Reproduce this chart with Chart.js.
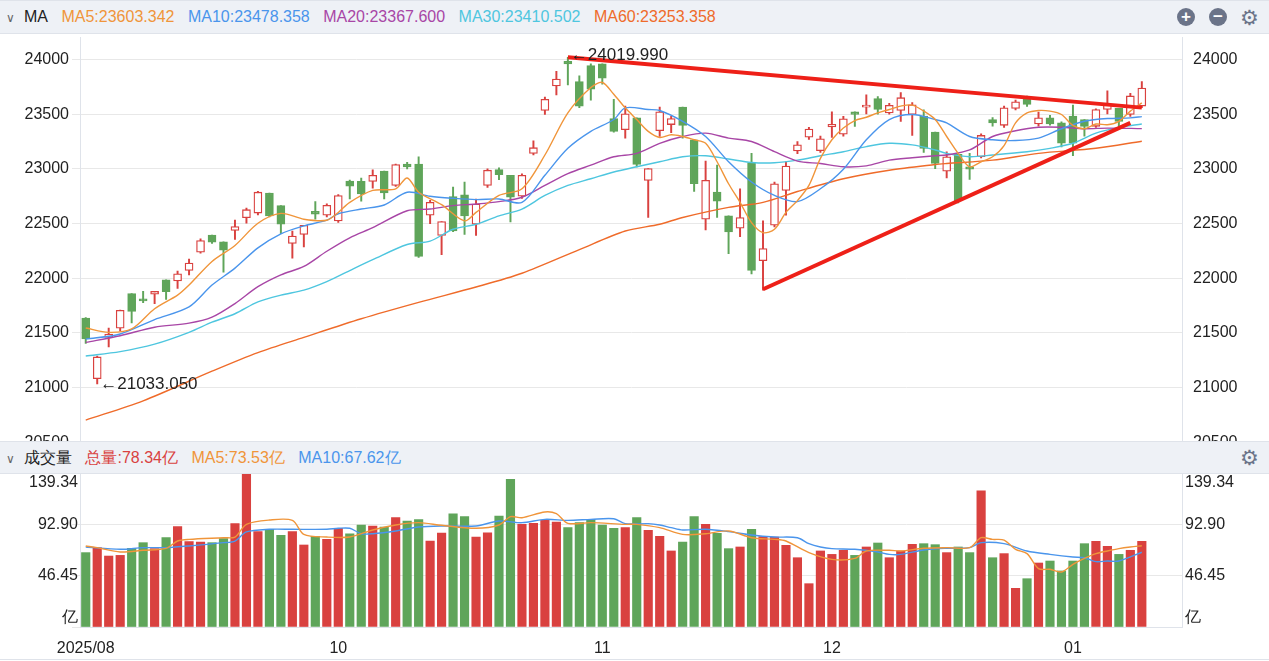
<!DOCTYPE html>
<html>
<head>
<meta charset="utf-8">
<script src="https://cdn.jsdelivr.net/npm/chart.js@4.4.1/dist/chart.umd.min.js"></script>
<style>
  body { margin:0; width:1269px; height:661px; background:#fff; font-family:"Liberation Sans", Arial, sans-serif; overflow:hidden; position:relative; }
  .bar { position:absolute; left:0; width:1269px; background:#eef1f6; border-top:1px solid #dfe3ea; border-bottom:1px solid #dfe3ea; font-size:16px; line-height:32px; white-space:nowrap; z-index:2; }
  .bar span { margin-right:9px; }
  .ic { position:absolute; top:7px; width:18px; height:18px; border-radius:9px; background:#6b7489; color:#fff; font-size:17px; line-height:18px; text-align:center; font-weight:bold; }
  .gear { position:absolute; top:1px; font-size:21px; color:#6b7489; }
  .wrap { position:absolute; left:0; width:1269px; z-index:1; }
</style>
</head>
<body>
<div class="bar" style="top:0;height:32px;">
  <span style="margin-left:6px;color:#666;font-size:12px;">&#8744;</span><span style="color:#222">MA</span>
  <span style="color:#f0953a">MA5:23603.342</span>
  <span style="color:#4a95ec">MA10:23478.358</span>
  <span style="color:#a846a6">MA20:23367.600</span>
  <span style="color:#4ec6df">MA30:23410.502</span>
  <span style="color:#ef6b2a">MA60:23253.358</span>
  <div class="ic" style="left:1177px;">+</div>
  <div class="ic" style="left:1209px;">&minus;</div>
  <div class="gear" style="left:1240px;">&#9881;</div>
</div>
<div class="wrap" style="top:25px;height:430px;"><canvas id="k"></canvas></div>
<div class="bar" style="top:441px;height:31px;line-height:31px;">
  <span style="margin-left:6px;color:#666;font-size:12px;">&#8744;</span><span style="color:#222">成交量</span>
  <span style="color:#d9413f">总量:78.34亿</span>
  <span style="color:#f0953a">MA5:73.53亿</span>
  <span style="color:#4a95ec">MA10:67.62亿</span>
  <div class="gear" style="left:1240px;top:0;">&#9881;</div>
</div>
<div class="wrap" style="top:473px;height:186px;border-bottom:1px solid #dfe3ea;"><canvas id="v"></canvas></div>
<script>
const open  = [21637,21083,21460,21544,21861,21808,21855,21985,21975,22071,22238,22395,22333,22438,22553,22596,22778,22664,22318,22401,22611,22577,22525,22889,22886,22886,22981,22849,23044,23044,22577,22392,22747,22763,22494,22849,22994,22942,22750,23142,23534,23759,23984,23799,23944,23960,23460,23358,23466,22895,23349,23405,23565,23266,22540,22787,22571,22457,23056,22161,22485,22803,23164,23290,23167,23383,23318,23521,23565,23642,23512,23534,23497,23482,23336,22979,23133,23019,23111,23451,23398,23553,23651,23410,23466,23420,23482,23451,23389,23543,23553,23497,23574];
const close = [21446,21281,21491,21707,21697,21794,21880,21877,22041,22139,22345,22331,22256,22472,22627,22787,22571,22494,22386,22485,22586,22667,22757,22843,22772,22942,22781,23040,23019,22200,22694,22519,22432,22571,22679,22988,22947,22741,22942,23194,23636,23821,23960,23574,23728,23830,23343,23503,23040,23003,23521,23460,23398,22864,22895,22704,22423,22556,22071,22272,22864,23025,23221,23364,23275,23407,23457,23497,23581,23543,23581,23651,23586,23188,23049,23111,22710,22997,23306,23420,23558,23614,23590,23466,23410,23234,23234,23389,23543,23590,23435,23667,23738];
const high  = [21640,21290,21546,21710,21861,21880,21880,21985,22065,22176,22360,22395,22333,22533,22642,22795,22778,22664,22432,22485,22701,22680,22765,22898,22917,22991,22981,23045,23060,23111,22713,22519,22833,22880,22725,23000,23009,22942,22955,23256,23657,23892,24020,23850,23960,23960,23636,23574,23466,23003,23565,23480,23565,23266,23071,23034,22571,22818,23142,22525,22880,23065,23250,23380,23300,23521,23480,23521,23676,23660,23600,23697,23605,23540,23336,23157,23133,23142,23320,23470,23575,23630,23665,23520,23490,23430,23583,23451,23550,23713,23553,23690,23799];
const low   = [21405,21034,21373,21520,21593,21778,21769,21806,21907,22031,22230,22318,22056,22355,22503,22580,22560,22407,22185,22287,22540,22560,22510,22725,22704,22824,22725,22840,23000,22190,22500,22216,22426,22401,22392,22830,22901,22516,22730,23127,23497,23676,23768,23560,23627,23775,23336,23281,23019,22556,23296,23330,23281,22793,22442,22556,22225,22380,22040,21892,22470,22577,23140,23270,23150,23287,23300,23389,23503,23500,23500,23435,23305,23150,23003,22917,22690,22903,23100,23390,23380,23540,23570,23390,23400,23200,23120,23300,23380,23503,23380,23480,23560];
const vol   = [67.3,71.8,64.2,64.8,71.2,76.3,70.9,80.8,90.8,77.2,76.9,76.3,79.9,93.5,138.1,86.3,88.4,82.9,86.3,74.2,82.0,79.3,89.3,84.4,92.3,91.4,90.5,98.9,95.9,97.1,77.8,85.0,102.5,99.8,81.4,85.3,100.4,133.6,92.9,93.8,96.5,95.0,89.9,94.4,97.4,92.3,89.3,89.9,98.9,87.5,82.0,68.8,76.9,99.8,92.9,84.7,70.9,72.4,88.4,81.7,81.4,73.9,62.7,39.2,68.8,65.7,69.4,64.8,72.4,76.0,62.7,68.8,74.8,75.4,74.5,67.3,72.4,67.3,123.1,62.7,66.4,35.0,43.7,57.9,59.7,50.7,59.7,75.4,77.5,73.0,65.7,69.4,77.5];

const ma5 = {0:21546,2:21506,4:21537,6:21722,8:21846,9:21938,11:22154,13:22300,15:22503,17:22593,19:22540,21:22531,22:22602,23:22694,25:22803,27:22818,28:22917,29:22787,31:22673,33:22525,34:22602,36:22757,38:22818,40:23127,42:23512,44:23743,45:23790,46:23682,47:23558,48:23451,49:23343,50:23287,51:23312,52:23296,53:23266,54:23234,55:23065,56:22864,57:22694,58:22509,59:22417,60:22448,61:22602,62:22710,63:22849,64:23096,65:23266,66:23373,67:23442,68:23472,69:23512,70:23543,71:23574,72:23583,73:23528,74:23451,75:23296,76:23142,77:23019,78:23065,79:23111,80:23213,81:23420,82:23512,83:23534,84:23528,85:23497,86:23398,87:23367,88:23410,89:23404,90:23435,91:23528,92:23603};
const ma10 = {0:21444,3:21491,6:21623,9:21738,11:21938,13:22093,15:22278,17:22407,19:22479,21:22531,22:22590,24:22633,26:22670,28:22787,30:22750,32:22731,34:22719,36:22725,38:22694,40:22942,42:23188,44:23343,46:23451,47:23558,49:23543,50:23534,52:23435,54:23296,56:23065,58:22880,60:22757,62:22701,64:22818,66:22997,68:23266,70:23451,72:23497,74:23451,75:23420,77:23296,79:23266,81:23259,83:23281,85:23367,87:23435,89:23460,91:23466,92:23478};
const ma20 = {0:21414,3:21475,6:21553,9:21590,11:21645,13:21769,15:21923,17:22031,19:22108,21:22247,23:22370,25:22463,28:22617,30:22633,32:22664,34:22679,36:22701,38:22741,40:22849,42:22957,44:23034,46:23111,48:23142,50:23234,52:23296,54:23327,56:23281,58:23250,60:23157,62:23071,64:23049,66:23019,68:23028,70:23080,72:23102,74:23120,75:23127,77:23173,79:23296,81:23349,83:23380,85:23380,87:23367,89:23373,92:23368};
const ma30 = {0:21290,3:21330,6:21398,9:21506,11:21599,13:21676,15:21784,17:21846,19:21892,21:21970,23:22071,25:22170,28:22309,30:22340,32:22448,34:22494,36:22571,38:22633,40:22757,42:22849,44:22910,46:22972,48:23019,50:23065,52:23111,54:23120,56:23090,58:23059,60:23056,62:23080,64:23120,66:23157,68:23204,70:23234,72:23219,74:23173,75:23142,77:23111,79:23127,82:23157,84:23188,86:23234,88:23327,90:23380,92:23410};
const ma60 = {0:20704,5:20880,11:21151,15:21321,19:21460,24:21630,29:21780,34:21920,38:22046,43:22262,47:22432,50:22494,52:22556,56:22648,59:22694,62:22793,66:22910,70:22988,74:23040,75:23049,79:23080,83:23142,88:23188,92:23253};
const vma5 = {0:73.3,1:71.8,3:67.9,5:69.4,7:71.2,8:77.8,9:79.3,12:80.8,13:81.4,14:92.9,16:96.8,18:96.5,19:83.8,21:81.4,23:81.4,25:87.8,27:92.3,29:94.4,31:92.0,34:89.3,36:92.3,37:99.8,38:98.9,40:104.1,41:102.5,42:93.8,44:94.4,47:92.9,48:92.9,50:89.9,52:83.8,54:84.4,56:86.9,58:80.8,60:79.3,61:77.8,63:67.3,65:61.2,67:62.1,68:68.8,70:69.4,71:68.8,73:71.2,75:71.8,77:71.8,78:80.8,79:79.3,80:78.7,81:70.3,82:66.4,83:52.8,84:52.2,85:49.8,86:56.7,87:62.1,88:66.4,89:68.8,90:70.9,91:72.4,92:73.53};
const vma10 = {0:72.4,3:70.3,5:71.8,7:71.8,9:73.3,12:76.3,13:77.8,14:86.0,16:88.4,18:88.4,21:88.4,22:89.3,23:89.3,24:84.4,25:84.4,27:86.9,29:90.5,31:91.4,34:91.4,36:95.9,38:94.4,40:97.4,42:96.5,44:97.4,46:98.0,47:93.5,49:93.5,50:92.3,51:89.9,52:87.8,54:88.4,56:86.3,58:83.2,60:81.4,62:80.8,63:75.4,64:72.4,65:70.9,67:70.3,69:67.9,70:65.7,71:65.7,73:69.7,75:71.2,77:71.8,78:76.3,80:75.4,82:68.8,84:65.7,86:63.3,87:62.7,88:59.1,89:59.7,90:59.7,92:67.62};

// hand-drawn trend lines: [index, price]
const trendTop = [[42,24020],[92,23560]];
const trendLow = [[59,21900],[91,23420]];

const priceTicks = [20500,21000,21500,22000,22500,23000,23500,24000];
const volTicks = [0,46.45,92.90,139.34];
const volTickText = ['亿','46.45','92.90','139.34'];
const monthLabels = {0:'2025/08',22:'10',45:'11',65:'12',86:'01'};

const N = open.length, SLOTS = 96;
const labels = Array.from({length:SLOTS}, (_, i) => i);
const RED = '#d9413f', GREEN = '#5fa55a';
const isUp = open.map((o, i) => close[i] >= o);
const series = obj => labels.map(i => obj[i] ?? null);
const trend = pts => labels.map(i => { const p = pts.find(q => q[0] === i); return p ? p[1] : null; });

const yW = {left:80, right:87};
function fixW(side){ return s => { s.width = yW[side]; }; }

const maLine = (data, color) => ({type:'line', data:series(data), borderColor:color, borderWidth:1.4, pointRadius:0, spanGaps:true, tension:0.3, order:1});

const textMarks = {
  id:'marks',
  afterDatasetsDraw(chart){
    const {ctx, scales:{x, y}} = chart;
    ctx.save();
    ctx.font = '17px "Liberation Sans", Arial';
    ctx.fillStyle = '#222';
    ctx.textBaseline = 'middle';
    const hi = high.indexOf(Math.max(...high)), lo = low.indexOf(Math.min(...low));
    ctx.fillText('\u2190' + '24019.990', x.getPixelForValue(hi) + 3, y.getPixelForValue(24020) - 2);
    ctx.fillText('\u2190' + '21033.050', x.getPixelForValue(lo) + 3, y.getPixelForValue(21034));
    ctx.restore();
  }
};

const priceFont = {size:16, family:'"Liberation Sans", Arial'};

new Chart(document.getElementById('k'), {
  data: {
    labels,
    datasets: [
      {type:'bar', data:labels.map(i => i < N ? [low[i], high[i]] : null), backgroundColor:labels.map(i => isUp[i] ? RED : GREEN), barThickness:1.3, grouped:false, order:3},
      {type:'bar', data:labels.map(i => i < N ? [open[i], close[i]] : null), backgroundColor:labels.map(i => isUp[i] ? '#fff' : GREEN), borderColor:labels.map(i => isUp[i] ? RED : GREEN), borderWidth:1.3, borderSkipped:false, barThickness:8, minBarLength:2, grouped:false, order:2},
      maLine(ma5, '#f0953a'), maLine(ma10, '#4a95ec'), maLine(ma20, '#a846a6'), maLine(ma30, '#4ec6df'), maLine(ma60, '#ef6b2a'),
      {type:'line', data:trend(trendTop), borderColor:'#ee2018', borderWidth:4, pointRadius:0, spanGaps:true, order:0},
      {type:'line', data:trend(trendLow), borderColor:'#ee2018', borderWidth:4, pointRadius:0, spanGaps:true, order:0}
    ]
  },
  options: {
    animation:false, responsive:true, maintainAspectRatio:false,
    layout:{padding:0},
    plugins:{legend:{display:false}, tooltip:{enabled:false}},
    scales:{
      x:{display:false, offset:true},
      y:{position:'left', min:20500, max:24200, afterBuildTicks:s => { s.ticks = priceTicks.map(v => ({value:v})); }, afterFit:fixW('left'),
         ticks:{color:'#222', font:priceFont, padding:3, callback:v => String(v)}, grid:{color:'#e8e8e8'}, border:{color:'#dfe3ea'}},
      y2:{position:'right', min:20500, max:24200, afterBuildTicks:s => { s.ticks = priceTicks.map(v => ({value:v})); }, afterFit:fixW('right'),
         ticks:{color:'#222', font:priceFont, padding:3, callback:v => String(v)}, grid:{display:false}, border:{color:'#dfe3ea'}}
    }
  },
  plugins:[textMarks]
});

const volLabels = {
  id:'volLabels',
  afterDraw(chart){
    const {ctx, scales:{y}, chartArea:a} = chart;
    ctx.save();
    ctx.font = '16px "Liberation Sans", Arial';
    ctx.fillStyle = '#222';
    ctx.textBaseline = 'middle';
    volTicks.forEach((v, k) => {
      let py = y.getPixelForValue(v);
      if (k === 0) py -= 9;
      if (k === volTicks.length - 1) py += 10;
      ctx.textAlign = 'right'; ctx.fillText(volTickText[k], a.left - 2, py);
      ctx.textAlign = 'left'; ctx.fillText(volTickText[k], a.right + 3, py);
    });
    ctx.restore();
  }
};

new Chart(document.getElementById('v'), {
  data: {
    labels,
    datasets: [
      {type:'bar', data:labels.map(i => i < N ? vol[i] : null), backgroundColor:labels.map(i => isUp[i] ? RED : GREEN), barThickness:8.5, order:2},
      {type:'line', data:series(vma5), borderColor:'#f0953a', borderWidth:1.4, pointRadius:0, spanGaps:true, tension:0.3, order:1},
      {type:'line', data:series(vma10), borderColor:'#4a95ec', borderWidth:1.4, pointRadius:0, spanGaps:true, tension:0.3, order:1}
    ]
  },
  options: {
    animation:false, responsive:true, maintainAspectRatio:false,
    layout:{padding:0},
    plugins:{legend:{display:false}, tooltip:{enabled:false}},
    scales:{
      x:{offset:true, grid:{display:false}, border:{color:'#dfe3ea'}, afterFit:s => { s.height = 32; },
         ticks:{autoSkip:false, maxRotation:0, color:'#222', font:{size:16, family:'"Liberation Sans", Arial'}, padding:4, callback:(v, i) => monthLabels[i] ?? ''}},
      y:{position:'left', min:0, max:139.34, afterBuildTicks:s => { s.ticks = volTicks.map(v => ({value:v})); }, afterFit:fixW('left'),
         ticks:{display:false}, grid:{color:'#e8e8e8'}, border:{color:'#dfe3ea'}},
      y2:{position:'right', min:0, max:139.34, afterFit:fixW('right'), ticks:{display:false}, grid:{display:false}, border:{color:'#dfe3ea'}}
    }
  },
  plugins:[volLabels]
});
</script>
</body>
</html>
